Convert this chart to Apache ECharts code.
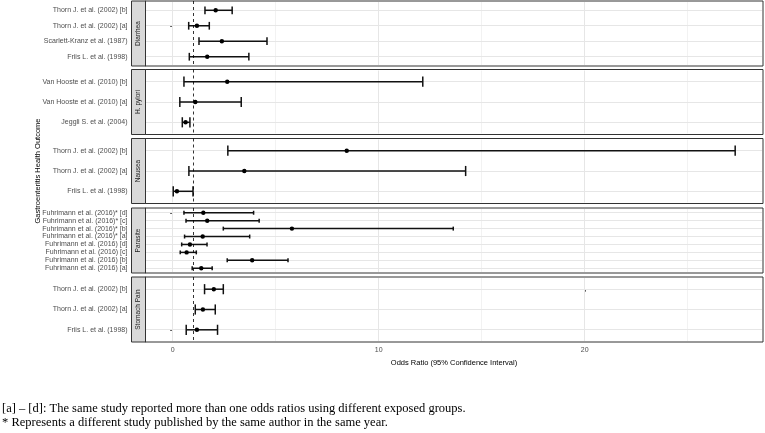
<!DOCTYPE html>
<html><head><meta charset="utf-8">
<script src="https://cdn.jsdelivr.net/npm/echarts@6/dist/echarts.min.js"></script>
<style>html,body{margin:0;padding:0;background:#fff;} #c{width:765px;height:433px;}</style>
</head><body><div id="c"></div>
<script>
// Panels (facets), studies listed top to bottom
const panelNames = ['Diarrhea', 'H. pylori', 'Nausea', 'Parasite', 'Stomach Pain'];

const diarrheaStudies = ['Thorn J. et al. (2002) [b]', 'Thorn J. et al. (2002) [a]', 'Scarlett-Kranz et al. (1987)', 'Friis L. et al. (1998)'];
const diarrheaOR   = [2.09, 1.18, 2.39, 1.68];
const diarrheaLow  = [1.57, 0.78, 1.28, 0.81];
const diarrheaHigh = [2.89, 1.78, 4.58, 3.70];

const pyloriStudies = ['Van Hooste et al. (2010) [b]', 'Van Hooste et al. (2010) [a]', 'Jeggli S. et al. (2004)'];
const pyloriOR   = [2.65, 1.10, 0.63];
const pyloriLow  = [0.55, 0.35, 0.47];
const pyloriHigh = [12.14, 3.33, 0.84];

const nauseaStudies = ['Thorn J. et al. (2002) [b]', 'Thorn J. et al. (2002) [a]', 'Friis L. et al. (1998)'];
const nauseaOR   = [8.45, 3.48, 0.21];
const nauseaLow  = [2.68, 0.79, 0.03];
const nauseaHigh = [27.3, 14.22, 0.99];

const parasiteStudies = ['Fuhrimann et al. (2016)* [d]', 'Fuhrimann et al. (2016)* [c]', 'Fuhrimann et al. (2016)* [b]', 'Fuhrimann et al. (2016)* [a]',
                         'Fuhrimann et al. (2016) [d]', 'Fuhrimann et al. (2016) [c]', 'Fuhrimann et al. (2016) [b]', 'Fuhrimann et al. (2016) [a]'];
const parasiteOR   = [1.49, 1.68, 5.79, 1.46, 0.84, 0.68, 3.86, 1.39];
const parasiteLow  = [0.55, 0.65, 2.46, 0.58, 0.44, 0.37, 2.65, 0.95];
const parasiteHigh = [3.93, 4.20, 13.62, 3.74, 1.67, 1.15, 5.60, 1.92];

const stomachStudies = ['Thorn J. et al. (2002) [b]', 'Thorn J. et al. (2002) [a]', 'Friis L. et al. (1998)'];
const stomachOR   = [2.00, 1.47, 1.18];
const stomachLow  = [1.55, 1.10, 0.66];
const stomachHigh = [2.46, 2.07, 2.18];

const xTickLabels = [0, 10, 20];
const xMinorGrid = [5, 15, 25];
const referenceOR = 1;
const xTitle = 'Odds Ratio (95% Confidence Interval)';
const yTitle = 'Gastroenteritis Health Outcome';
const footnote1 = '[a] \u2013 [d]: The same study reported more than one odds ratios using different exposed groups.';
const footnote2 = '* Represents a different study published by the same author in the same year.';

const panelData = [
  [diarrheaStudies, diarrheaOR, diarrheaLow, diarrheaHigh],
  [pyloriStudies, pyloriOR, pyloriLow, pyloriHigh],
  [nauseaStudies, nauseaOR, nauseaLow, nauseaHigh],
  [parasiteStudies, parasiteOR, parasiteLow, parasiteHigh],
  [stomachStudies, stomachOR, stomachLow, stomachHigh]
];

// layout
const panelTops = [1, 69.5, 138.5, 208, 277];
const panelH = 65;
const plotLeft = 145, plotRight = 763, stripLeft = 131;
const XMIN = -1.34, XMAX = 28.65;
const FONT = 'Liberation Sans, Arial, sans-serif';
const crisp = v => Math.round(v - 0.5) + 0.5;

const chart = echarts.init(document.getElementById('c'), null, {renderer: 'canvas'});

const grids = [], xAxes = [], yAxes = [], series = [], graphics = [];

panelData.forEach((pd, gi) => {
  const names = pd[0];
  const n = names.length;
  const last = gi === panelData.length - 1;
  const idx = names.map((_, i) => i);
  grids.push({left: plotLeft, width: plotRight - plotLeft, top: panelTops[gi], height: panelH,
    show: true, borderColor: '#333333', borderWidth: 1, backgroundColor: 'transparent', containLabel: false});
  xAxes.push({type: 'value', gridIndex: gi, min: XMIN, max: XMAX,
    axisLine: {show: false}, splitLine: {show: false},
    axisTick: {show: last, customValues: xTickLabels, length: 2.5, lineStyle: {color: '#333333', width: 0.8}},
    axisLabel: {show: last, customValues: xTickLabels, color: '#4d4d4d', fontSize: 7, fontFamily: FONT, margin: 5},
    name: last ? xTitle : '', nameLocation: 'middle', nameGap: 17,
    nameTextStyle: {color: '#000', fontSize: 7.5, fontFamily: FONT}});
  yAxes.push({type: 'value', gridIndex: gi, inverse: true, min: -0.6, max: n - 0.4,
    offset: plotLeft - stripLeft,
    axisLine: {show: false}, splitLine: {show: false},
    axisTick: {show: true, customValues: idx, length: 2.5, lineStyle: {color: '#333333', width: 0.8}},
    axisLabel: {show: true, customValues: idx, formatter: v => names[Math.round(v)] || '',
      color: '#4d4d4d', fontSize: 7, fontFamily: FONT, margin: 3.5}});

  // background grid lines
  const gridItems = [];
  xTickLabels.forEach(v => gridItems.push([v, 0]));
  xMinorGrid.forEach(v => gridItems.push([v, 1]));
  idx.forEach(v => gridItems.push([v, 2]));
  series.push({type: 'custom', xAxisIndex: gi, yAxisIndex: gi, silent: true, z: 1, clip: false,
    data: gridItems,
    renderItem: (params, api) => {
      const cs = params.coordSys;
      const v = api.value(0), k = api.value(1);
      if (k === 2) {
        const y = crisp(api.coord([0, v])[1]);
        return {type: 'line', shape: {x1: cs.x + 1, y1: y, x2: cs.x + cs.width - 1, y2: y},
          style: {stroke: '#e6e6e6', lineWidth: 1}};
      }
      const x = crisp(api.coord([v, 0])[0]);
      return {type: 'line', shape: {x1: x, y1: cs.y + 1, x2: x, y2: cs.y + cs.height - 1},
        style: {stroke: k === 0 ? '#e6e6e6' : '#f2f2f2', lineWidth: 1}};
    }});

  // error bars
  const items = idx.map(i => [i, pd[2][i], pd[1][i], pd[3][i]]);
  series.push({type: 'custom', xAxisIndex: gi, yAxisIndex: gi, z: 3, clip: false,
    data: items,
    encode: {x: [1, 2, 3], y: 0},
    renderItem: (params, api) => {
      const y = api.value(0), lo = api.value(1), pt = api.value(2), hi = api.value(3);
      const pL = api.coord([lo, y]), pH = api.coord([hi, y]), pP = api.coord([pt, y]);
      const c1 = api.coord([lo, y - 0.25])[1], c2 = api.coord([lo, y + 0.25])[1];
      const st = {stroke: '#111', lineWidth: 1.5};
      return {type: 'group', children: [
        {type: 'line', shape: {x1: pL[0], y1: pL[1], x2: pH[0], y2: pH[1]}, style: st},
        {type: 'line', shape: {x1: pL[0], y1: c1, x2: pL[0], y2: c2}, style: st},
        {type: 'line', shape: {x1: pH[0], y1: c1, x2: pH[0], y2: c2}, style: st},
        {type: 'circle', shape: {cx: pP[0], cy: pP[1], r: 2.2}, style: {fill: '#000'}}
      ]};
    },
    markLine: {silent: true, symbol: 'none', label: {show: false}, animation: false,
      lineStyle: {type: [3, 3], color: '#000', width: 0.8}, data: [{xAxis: referenceOR}]}
  });

  // strip
  graphics.push({type: 'rect', shape: {x: stripLeft + 0.5, y: panelTops[gi], width: plotLeft - stripLeft, height: panelH},
    style: {fill: '#d9d9d9', stroke: '#333333', lineWidth: 1}, z: 10});
  graphics.push({type: 'text', x: (stripLeft + plotLeft) / 2 + 0.5, y: panelTops[gi] + panelH / 2, rotation: Math.PI / 2,
    style: {text: panelNames[gi], fill: '#1a1a1a', font: '6.5px ' + FONT, textAlign: 'center', textVerticalAlign: 'middle'}, z: 11});
});

graphics.push({type: 'text', x: 38, y: 171, rotation: Math.PI / 2,
  style: {text: yTitle, fill: '#000', font: '7.5px ' + FONT, textAlign: 'center', textVerticalAlign: 'middle'}});
graphics.push({type: 'text', left: 2, top: 402.5,
  style: {text: footnote1, fill: '#000', font: '12.5px "Liberation Serif", "Times New Roman", serif'}});
graphics.push({type: 'text', left: 2, top: 416.5,
  style: {text: footnote2, fill: '#000', font: '12.5px "Liberation Serif", "Times New Roman", serif'}});

chart.setOption({
  animation: false,
  backgroundColor: '#ffffff',
  grid: grids, xAxis: xAxes, yAxis: yAxes, series: series, graphic: graphics
});
</script>
</body></html>
